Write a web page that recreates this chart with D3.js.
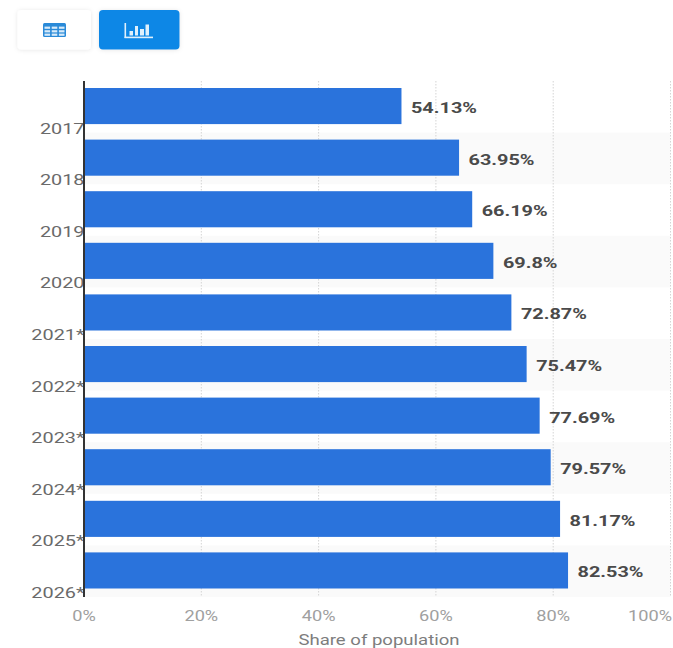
<!DOCTYPE html>
<html>
<head>
<meta charset="utf-8">
<script src="https://cdn.jsdelivr.net/npm/d3@7/dist/d3.min.js"></script>
<style>
  html, body { margin: 0; padding: 0; background: #fff; }
  svg { display: block; }
  text { font-family: Roboto, sans-serif; }
</style>
</head>
<body>
<svg id="chart" width="673" height="648"></svg>
<script>
const years = ["2017", "2018", "2019", "2020", "2021*", "2022*", "2023*", "2024*", "2025*", "2026*"];
const shares = [54.13, 63.95, 66.19, 69.8, 72.87, 75.47, 77.69, 79.57, 81.17, 82.53];
const xTicks = [0, 20, 40, 60, 80, 100];
const axisTitle = "Share of population";

const svg = d3.select("#chart");
const x = d3.scaleLinear().domain([0, 100]).range([84, 670.5]);
const y = d3.scaleBand().domain(years).range([81, 597]).paddingInner(0).paddingOuter(0);
const barInset = 7;
const wideValue = 1.37;
const wideYear = 1.37;
const wideTick = 1.3;
const wideTitle = 1.28;

// Soft shadow for the toggle buttons
const defs = svg.append("defs");
const shadow = defs.append("filter").attr("id", "btnShadow")
  .attr("x", "-20%").attr("y", "-20%").attr("width", "140%").attr("height", "140%");
shadow.append("feDropShadow").attr("dx", 0).attr("dy", 0.5).attr("stdDeviation", 2)
  .attr("flood-color", "#000").attr("flood-opacity", 0.1);

// View toggle: table button
svg.append("rect").attr("x", 17.5).attr("y", 10).attr("width", 73.5).attr("height", 39.5)
  .attr("rx", 4).attr("fill", "#fff").attr("filter", "url(#btnShadow)");
const tbl = svg.append("g").attr("transform", "translate(43,23)");
tbl.append("rect").attr("width", 23).attr("height", 14).attr("rx", 1.5).attr("fill", "#2a8ad8");
d3.cross([1.5, 8.7, 15.9], [3.6, 7.2, 10.6]).forEach(([cx, cy]) => {
  tbl.append("rect").attr("x", cx).attr("y", cy).attr("width", 5.6).attr("height", 2.2).attr("fill", "#d8ebfa");
});

// View toggle: chart button
svg.append("rect").attr("x", 99).attr("y", 10).attr("width", 80.5).attr("height", 39.5)
  .attr("rx", 4).attr("fill", "#0f87e6").attr("filter", "url(#btnShadow)");
const ico = svg.append("g").attr("transform", "translate(124.5,23)").attr("fill", "#dff0fc");
ico.append("rect").attr("x", 0).attr("y", 0).attr("width", 1.6).attr("height", 15);
ico.append("rect").attr("x", 0).attr("y", 13.6).attr("width", 28.5).attr("height", 1.6);
[[5, 7, 3.5], [10.5, 2, 3], [15.5, 5, 4], [21, 0.5, 3.5]].forEach(([bx, by, bw]) => {
  ico.append("rect").attr("x", bx).attr("y", by + 1).attr("width", bw).attr("height", 11.5 - by);
});

// Alternating row stripes
svg.append("g").selectAll("rect")
  .data(years.filter((d, i) => i % 2 === 1))
  .join("rect")
  .attr("x", x(0)).attr("y", d => y(d))
  .attr("width", x(100) - x(0)).attr("height", y.bandwidth())
  .attr("fill", "#fafafa");

// Dotted vertical gridlines
svg.append("g").selectAll("line")
  .data(xTicks.slice(1))
  .join("line")
  .attr("x1", d => x(d)).attr("x2", d => x(d))
  .attr("y1", y.range()[0]).attr("y2", y.range()[1])
  .attr("stroke", "#d4d4d4").attr("stroke-width", 1).attr("stroke-dasharray", "1.5,1.5");

// Bars
svg.append("g").selectAll("rect")
  .data(years)
  .join("rect")
  .attr("x", x(0))
  .attr("y", d => y(d) + barInset)
  .attr("width", (d, i) => x(shares[i]) - x(0))
  .attr("height", y.bandwidth() - barInset * 2 - 1.5)
  .attr("fill", "#2a73dc");

// Value labels
svg.append("g").selectAll("text")
  .data(years)
  .join("text")
  .attr("transform", (d, i) => `translate(${x(shares[i]) + 9.5},${y(d) + 32}) scale(${wideValue},1)`)
  .attr("font-size", 14.5).attr("font-weight", 700).attr("fill", "#4a4a4a")
  .text((d, i) => shares[i] + "%");

// Category labels sit at the bottom of each row, right-aligned to the axis
svg.append("g").selectAll("text")
  .data(years)
  .join("text")
  .attr("transform", d => `translate(84.5,${y(d) + y.bandwidth() + 1}) scale(${wideYear},1)`)
  .attr("text-anchor", "end")
  .attr("font-size", 14.5).attr("fill", "#6a6a6a")
  .text(d => d);

// Axis line
svg.append("line")
  .attr("x1", x(0)).attr("x2", x(0))
  .attr("y1", y.range()[0]).attr("y2", y.range()[1])
  .attr("stroke", "#333").attr("stroke-width", 2);

// Horizontal axis labels; the last one is pulled in to stay inside the page
svg.append("g").selectAll("text")
  .data(xTicks)
  .join("text")
  .attr("transform", d => `translate(${Math.min(x(d), 650)},621) scale(${wideTick},1)`)
  .attr("text-anchor", "middle")
  .attr("font-size", 14).attr("fill", "#a0a0a0")
  .text(d => d + "%");

svg.append("text")
  .attr("transform", `translate(379,645) scale(${wideTitle},1)`)
  .attr("text-anchor", "middle")
  .attr("font-size", 14.5).attr("fill", "#7d7d7d")
  .text(axisTitle);
</script>
</body>
</html>
